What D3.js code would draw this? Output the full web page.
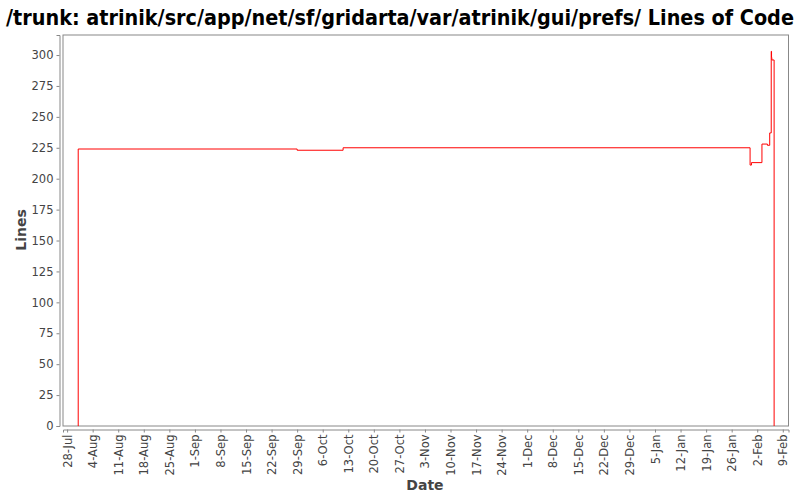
<!DOCTYPE html>
<html><head><meta charset="utf-8">
<script src="https://cdn.jsdelivr.net/npm/d3@7"></script>
<style>body{margin:0;background:#fff;} svg{display:block;}</style>
</head><body>
<svg id="c" width="800" height="500"></svg>
<script>
const titleText = "/trunk: atrinik/src/app/net/sf/gridarta/var/atrinik/gui/prefs/ Lines of Code";
const xLabel = "Date";
const yLabel = "Lines";
const dates = ["2008-07-31T00:00","2008-07-31T01:00","2008-09-29T00:00","2008-10-11T14:00",
  "2009-01-31T01:00","2009-01-31T10:00","2009-02-03T07:00","2009-02-04T19:00",
  "2009-02-05T10:00","2009-02-05T20:00","2009-02-05T22:00","2009-02-06T00:00","2009-02-06T15:00"];
const lines = [0,224,223,225,211,213,228,227,237,303,298,296,0];
const yTicks = [0,25,50,75,100,125,150,175,200,225,250,275,300];
const xTickStart = "2008-07-28", xTickCount = 29;

const parse = d3.timeParse("%Y-%m-%dT%H:%M");
const data = dates.map((d,i)=>({date:parse(d), v:lines[i]}));
const svg = d3.select("#c");
const L=63, R=788.5, T=35, B=426;
const x = d3.scaleTime().domain([parse("2008-07-26T21:00"), parse("2009-02-10T13:30")]).range([L,R]);
const y = d3.scaleLinear().domain([0,316.2]).range([B,T]);

svg.append("rect").attr("x",L).attr("y",T).attr("width",R-L).attr("height",B-T)
  .attr("fill","none").attr("stroke","#888").attr("stroke-width",1);

const ya = svg.append("g").attr("transform","translate(59.5,0)")
  .call(d3.axisLeft(y).tickValues(yTicks).tickSize(3).tickPadding(3));
const t0 = d3.timeParse("%Y-%m-%d")(xTickStart);
const xt = d3.range(xTickCount).map(i=>d3.timeDay.offset(t0,7*i));
const xa = svg.append("g").attr("transform","translate(0,429.5)")
  .call(d3.axisBottom(x).tickValues(xt).tickFormat(d3.timeFormat("%-d-%b")).tickSize(3).tickPadding(3));
[ya,xa].forEach(g=>{
  g.select(".domain").attr("stroke","#888");
  g.selectAll(".tick line").attr("stroke","#888");
  g.selectAll("text").attr("fill","#444").style("font-family","DejaVu Sans").style("font-size","11.5px");
});
xa.selectAll("text").attr("transform","rotate(-90)").attr("text-anchor","end")
  .attr("x",-5).attr("y",0).attr("dy","0.35em");

const line = d3.line().x(d=>x(d.date)).y(d=>y(d.v)).curve(d3.curveStepAfter);
svg.append("path").datum(data).attr("d",line).attr("fill","none")
  .attr("stroke","#ff0000").attr("stroke-width",1);

const tt = svg.append("text").attr("x",400).attr("y",25).attr("text-anchor","middle")
  .style("font-family","'DejaVu Sans Condensed', 'DejaVu Sans'").style("font-weight","bold").style("font-size","20px")
  .attr("fill","#000").text(titleText);
const w = tt.node().getComputedTextLength();
tt.style("font-size", Math.min(23, 20*788/w).toFixed(2)+"px");

svg.append("text").attr("x",425).attr("y",490).attr("text-anchor","middle")
  .style("font-family","DejaVu Sans").style("font-weight","bold").style("font-size","14px")
  .attr("fill","#444").text(xLabel);
svg.append("text").attr("transform","translate(26,230) rotate(-90)").attr("text-anchor","middle")
  .style("font-family","DejaVu Sans").style("font-weight","bold").style("font-size","14px")
  .attr("fill","#444").text(yLabel);
</script>
</body></html>
